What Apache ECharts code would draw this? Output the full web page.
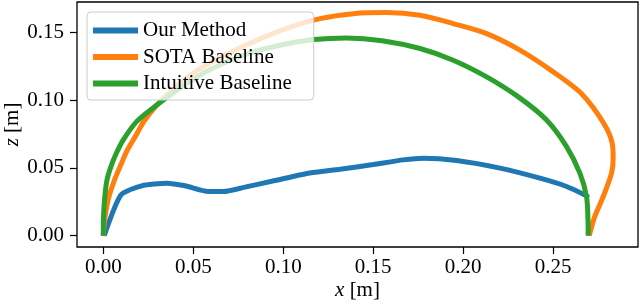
<!DOCTYPE html>
<html>
<head>
<meta charset="utf-8">
<script src="https://cdn.jsdelivr.net/npm/echarts@6/dist/echarts.min.js"></script>
<style>
  html, body { margin: 0; padding: 0; background: #fff; }
  #chart { width: 640px; height: 307px; }
</style>
</head>
<body>
<div id="chart"></div>
<script>
// ---- Data ----
const seriesNames = ['Our Method', 'SOTA Baseline', 'Intuitive Baseline'];

const ourX = [0.0005, 0.0098, 0.0213, 0.0352, 0.0454, 0.0583, 0.0667, 0.0787, 0.0954, 0.1139, 0.1315, 0.1500, 0.1667, 0.1778, 0.1963, 0.2204, 0.2426, 0.2574, 0.2676, 0.2696];
const ourY = [0.0000, 0.0300, 0.0368, 0.0387, 0.0368, 0.0326, 0.0326, 0.0358, 0.0407, 0.0461, 0.0490, 0.0525, 0.0559, 0.0571, 0.0554, 0.0498, 0.0424, 0.0363, 0.0300, 0.0280];

const sotaX = [0.0000, 0.0008, 0.0030, 0.0062, 0.0100, 0.0133, 0.0175, 0.0225, 0.0300, 0.0450, 0.0600, 0.0800, 0.1000, 0.1204, 0.1390, 0.1574, 0.1760, 0.1944, 0.2130, 0.2315, 0.2500, 0.2655, 0.2780, 0.2828, 0.2833, 0.2824, 0.2778, 0.2731, 0.2704, 0.2700];
const sotaY = [0.0000, 0.0120, 0.0280, 0.0410, 0.0530, 0.0630, 0.0725, 0.0840, 0.0965, 0.1150, 0.1280, 0.1410, 0.1520, 0.1600, 0.1637, 0.1645, 0.1625, 0.1564, 0.1490, 0.1368, 0.1208, 0.1050, 0.0830, 0.0680, 0.0570, 0.0461, 0.0289, 0.0142, 0.0020, 0.0000];

const intX = [0.0000, 0.0001, 0.0006, 0.0019, 0.0040, 0.0070, 0.0111, 0.0185, 0.0297, 0.0450, 0.0600, 0.0800, 0.1000, 0.1170, 0.1350, 0.1550, 0.1760, 0.1944, 0.2130, 0.2310, 0.2463, 0.2574, 0.2648, 0.2685, 0.2693, 0.2694];
const intY = [0.0000, 0.0120, 0.0250, 0.0400, 0.0500, 0.0600, 0.0706, 0.0841, 0.0963, 0.1110, 0.1230, 0.1340, 0.1410, 0.1446, 0.1458, 0.1438, 0.1380, 0.1294, 0.1171, 0.1020, 0.0853, 0.0657, 0.0461, 0.0289, 0.0120, 0.0000];

const xTicks = [0.00, 0.05, 0.10, 0.15, 0.20, 0.25];
const yTicks = [0.00, 0.05, 0.10, 0.15];

const colors = ['#1f77b4', '#ff7f0e', '#2ca02c'];

// ---- Build ----
function pairs(xs, ys) { return xs.map((x, i) => [x, ys[i]]); }

const FONT = 'Liberation Serif';
const chart = echarts.init(document.getElementById('chart'), null, { renderer: 'canvas' });

const option = {
  animation: false,
  color: colors,
  grid: {
    left: 77, right: 2, top: 2, bottom: 60,
    containLabel: false,
    outerBoundsMode: 'none',
    show: true, borderColor: '#000', borderWidth: 1.3, backgroundColor: 'transparent'
  },
  xAxis: {
    type: 'value',
    min: -0.0146, max: 0.2971,
    name: '{i|x} [m]',
    nameLocation: 'middle',
    nameGap: 33,
    nameMoveOverlap: false,
    nameTextStyle: {
      fontFamily: FONT, fontSize: 21, color: '#000',
      rich: { i: { fontFamily: FONT, fontStyle: 'italic', fontSize: 21, color: '#000' } }
    },
    axisLine: { show: false, onZero: false },
    splitLine: { show: false },
    axisTick: { show: true, length: 7, lineStyle: { color: '#000', width: 1.2 }, customValues: xTicks },
    axisLabel: {
      customValues: xTicks, margin: 10,
      fontFamily: FONT, fontSize: 21, color: '#000',
      formatter: v => v.toFixed(2)
    }
  },
  yAxis: {
    type: 'value',
    min: -0.00832, max: 0.1723,
    name: '{i|z} [m]',
    nameLocation: 'middle',
    nameRotate: 90,
    nameGap: 54,
    nameMoveOverlap: false,
    nameTextStyle: {
      fontFamily: FONT, fontSize: 21, color: '#000',
      rich: { i: { fontFamily: FONT, fontStyle: 'italic', fontSize: 21, color: '#000' } }
    },
    axisLine: { show: false, onZero: false },
    splitLine: { show: false },
    axisTick: { show: true, length: 7, lineStyle: { color: '#000', width: 1.2 }, customValues: yTicks },
    axisLabel: {
      customValues: yTicks, margin: 13,
      fontFamily: FONT, fontSize: 21, color: '#000',
      formatter: v => v.toFixed(2)
    }
  },
  legend: {
    data: seriesNames,
    orient: 'vertical',
    left: 87, top: 12,
    padding: [8, 22, 6, 6],
    itemWidth: 45, itemHeight: 6, itemGap: 5.5, itemTextGap: 12,
    icon: 'rect',
    backgroundColor: 'rgba(255,255,255,0.8)',
    borderColor: '#cccccc', borderWidth: 1, borderRadius: 4,
    textStyle: { fontFamily: FONT, fontSize: 21, color: '#000' }
  },
  series: [
    { name: seriesNames[0], type: 'line', data: pairs(ourX, ourY), showSymbol: false, smooth: 0.2, lineStyle: { width: 5 } },
    { name: seriesNames[1], type: 'line', data: pairs(sotaX, sotaY), showSymbol: false, smooth: 0.3, lineStyle: { width: 5 } },
    { name: seriesNames[2], type: 'line', data: pairs(intX, intY), showSymbol: false, smooth: 0.3, lineStyle: { width: 5 } }
  ]
};
chart.setOption(option);
</script>
</body>
</html>
